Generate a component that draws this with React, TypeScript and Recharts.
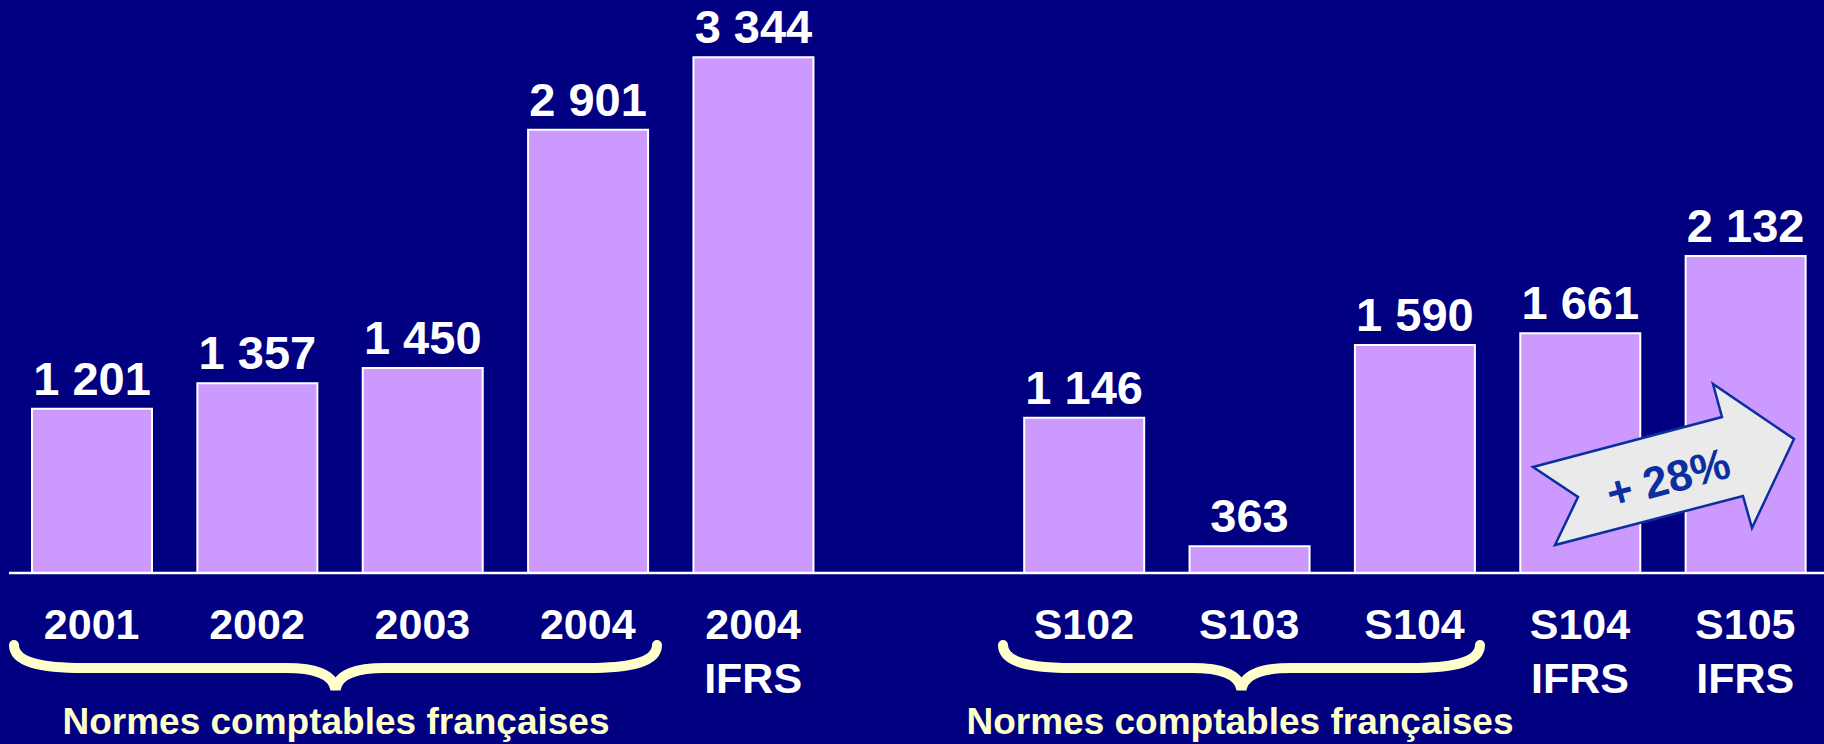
import { BarChart, Bar, XAxis, YAxis, LabelList } from "recharts";

// categories (the blank one is the gap between the yearly and half-year groups)
const categories = ["2001", "2002", "2003", "2004", "2004 IFRS", "", "S102", "S103", "S104", "S104 IFRS", "S105 IFRS"];
const results = [1201, 1357, 1450, 2901, 3344, null, 1146, 363, 1590, 1661, 2132];
const tickLines = [
  ["2001"],
  ["2002"],
  ["2003"],
  ["2004"],
  ["2004", "IFRS"],
  [],
  ["S102"],
  ["S103"],
  ["S104"],
  ["S104", "IFRS"],
  ["S105", "IFRS"],
];
const groupLabel = "Normes comptables françaises";
const growthLabel = "+ 28%";

const data = categories.map((c, i) => ({ key: c || "gap", value: results[i] }));

const FONT = '"Liberation Sans", Arial, Helvetica, sans-serif';
const NAVY = "#000080";
const BAR = "#CC99FF";
const CREAM = "#FFFFCC";

const fmt = (v: number) => String(v).replace(/\B(?=(\d{3})+(?!\d))/g, " ");

const ValueLabel = (props: any) => {
  const { x, y, width, value } = props;
  if (value == null) return null;
  return (
    <text
      x={x + width / 2}
      y={y - 14}
      textAnchor="middle"
      fill="#fff"
      fontFamily={FONT}
      fontWeight="bold"
      fontSize={47}
    >
      {fmt(value)}
    </text>
  );
};

const Tick = (props: any) => {
  const { x, y, payload } = props;
  const lines = tickLines[payload.index] || [];
  return (
    <g>
      {lines.map((l, i) => (
        <text
          key={i}
          x={x}
          y={y + 66 + i * 54}
          textAnchor="middle"
          fill="#fff"
          fontFamily={FONT}
          fontWeight="bold"
          fontSize={43}
        >
          {l}
        </text>
      ))}
    </g>
  );
};

// curly brace under a group of categories
const bracePath = (x1: number, x2: number) => {
  const m = (x1 + x2) / 2;
  const top = 645;
  const h = 668;
  const tip = 690;
  return `M ${x1} ${top} C ${x1} ${h - 6}, ${x1 + 26} ${h}, ${x1 + 70} ${h} L ${m - 50} ${h} C ${m - 20} ${h}, ${m - 2} ${h + 6}, ${m} ${tip} C ${m + 2} ${h + 6}, ${m + 20} ${h}, ${m + 50} ${h} L ${x2 - 70} ${h} C ${x2 - 26} ${h}, ${x2} ${h - 6}, ${x2} ${top}`;
};

const arrowPoints = "1533,467 1722,417 1713,384 1794,439 1752,528 1743,496 1555,545 1578,497";

export default function App() {
  return (
    <div
      style={{
        position: "absolute",
        left: 0,
        top: 0,
        width: 1824,
        height: 744,
        overflow: "hidden",
        background: NAVY,
      }}
    >
      <BarChart
        width={1828}
        height={744}
        data={data}
        margin={{ top: 48, right: 0, left: 9, bottom: 0 }}
      >
        <XAxis
          dataKey="key"
          interval={0}
          height={171}
          tickLine={false}
          tickSize={0}
          tickMargin={0}
          axisLine={{ stroke: "#fff", strokeWidth: 2.5 }}
          tick={<Tick />}
        />
        <YAxis hide type="number" domain={[200, 3400]} allowDataOverflow />
        <Bar
          dataKey="value"
          fill={BAR}
          stroke="#fff"
          strokeWidth={2}
          barSize={120}
          isAnimationActive={false}
        >
          <LabelList dataKey="value" content={<ValueLabel />} />
        </Bar>
      </BarChart>
      <svg
        width={1824}
        height={744}
        style={{ position: "absolute", left: 0, top: 0, pointerEvents: "none" }}
      >
        <path d={bracePath(14, 657)} fill="none" stroke={CREAM} strokeWidth={10} strokeLinecap="round" />
        <path d={bracePath(1003, 1480)} fill="none" stroke={CREAM} strokeWidth={10} strokeLinecap="round" />
        <text x={336} y={734} textAnchor="middle" fill={CREAM} fontFamily={FONT} fontWeight="bold" fontSize={37}>
          {groupLabel}
        </text>
        <text x={1240} y={734} textAnchor="middle" fill={CREAM} fontFamily={FONT} fontWeight="bold" fontSize={37}>
          {groupLabel}
        </text>
        <polygon points={arrowPoints} fill="#EAEAEA" stroke="#0B2FA0" strokeWidth={2.5} strokeLinejoin="miter" />
        <text
          x={1668}
          y={478}
          textAnchor="middle"
          dominantBaseline="central"
          fill="#0B2FA0"
          fontFamily={FONT}
          fontWeight="bold"
          fontSize={44}
          transform="rotate(-15 1668 478)"
        >
          {growthLabel}
        </text>
      </svg>
    </div>
  );
}
